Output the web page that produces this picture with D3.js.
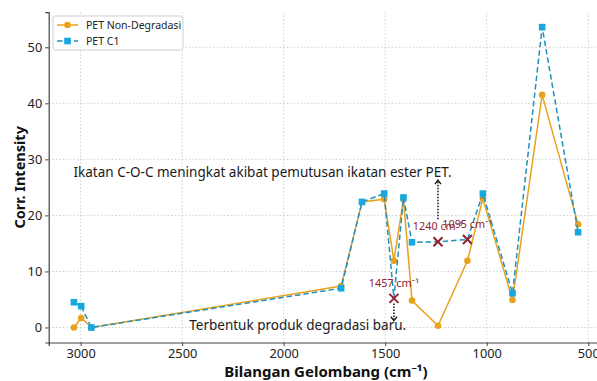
<!DOCTYPE html>
<html>
<head>
<meta charset="utf-8">
<script src="https://cdn.jsdelivr.net/npm/d3@7"></script>
<style>
  body { margin: 0; background: #fff; }
  svg { display: block; font-family: "Noto Sans", "Open Sans", sans-serif; }
</style>
</head>
<body>
<div id="chart"></div>
<script>
// wavenumbers (cm-1), shared by both series
const waves = [3033, 2997, 2947, 1717, 1614, 1505, 1457, 1410, 1368, 1240, 1095, 1019, 873, 727, 550];
const nonDegradasi = [0, 1.7, 0, 7.4, 22.4, 22.9, 11.9, 22.9, 4.8, 0.3, 11.9, 23.0, 4.9, 41.5, 18.4];
const petC1 = [4.5, 3.8, 0, 7.0, 22.4, 23.9, 5.2, 23.2, 15.2, 15.3, 15.7, 23.9, 6.1, 53.6, 17.0];
const seriesNames = ["PET Non-Degradasi", "PET C1"];

const xTicks = [3000, 2500, 2000, 1500, 1000, 500];
const yTicks = [0, 10, 20, 30, 40, 50];

// marked peaks on PET C1
const markWaves = [1457, 1240, 1095];
const markLabels = ["1457 cm\u207B\u00B9", "1240 cm\u207B\u00B9", "1095 cm\u207B\u00B9"];

const noteTop = "Ikatan C-O-C meningkat akibat pemutusan ikatan ester PET.";
const noteBottom = "Terbentuk produk degradasi baru.";

const W = 597, H = 381;
const plot = { left: 48.7, right: 603.3, top: 12.1, bottom: 342.5 };

const orange = "#E8A21E", blueLine = "#2090BC", blueMark = "#18A8E0", red = "#8E2431";

const svg = d3.select("#chart").append("svg").attr("width", W).attr("height", H);

// matplotlib-like 5% margins
const xExt = d3.extent(waves), yMax = d3.max(petC1.concat(nonDegradasi)), yMin = 0;
const xPad = (xExt[1] - xExt[0]) * 0.05, yPad = (yMax - yMin) * 0.05;
const x = d3.scaleLinear().domain([xExt[1] + xPad, xExt[0] - xPad]).range([plot.left, plot.right]);
const y = d3.scaleLinear().domain([yMin - yPad, yMax + yPad]).range([plot.bottom, plot.top]);

// grid
const grid = svg.append("g").attr("stroke", "#c4c4c4").attr("stroke-width", 0.8).attr("stroke-dasharray", "1.5,2");
grid.selectAll(".gx").data(xTicks).enter().append("line")
  .attr("x1", d => x(d)).attr("x2", d => x(d)).attr("y1", plot.top).attr("y2", plot.bottom);
grid.selectAll(".gy").data(yTicks).enter().append("line")
  .attr("x1", plot.left).attr("x2", plot.right).attr("y1", d => y(d)).attr("y2", d => y(d));

// axes
const xAxis = svg.append("g")
  .attr("transform", `translate(0,${plot.bottom})`)
  .call(d3.axisBottom(x).tickValues(xTicks).tickSize(3.5).tickPadding(3).tickFormat(d3.format("d")));
const yAxis = svg.append("g")
  .attr("transform", `translate(${plot.left},0)`)
  .call(d3.axisLeft(y).tickValues(yTicks).tickSize(3.5).tickPadding(3).tickFormat(d3.format("d")));
[xAxis, yAxis].forEach(a => {
  a.select(".domain").attr("stroke", "#444").attr("stroke-width", 1.2);
  a.selectAll(".tick line").attr("stroke", "#444");
  a.selectAll("text").attr("fill", "#222").style("font-size", "12.8px").style("font-family", "Noto Sans");
});

svg.append("text")
  .attr("x", (plot.left + plot.right) / 2).attr("y", 377)
  .attr("text-anchor", "middle").style("font-size", "15px").style("font-weight", "bold").attr("fill", "#111")
  .text("Bilangan Gelombang (cm\u207B\u00B9)");
svg.append("text")
  .attr("transform", `translate(25,${(plot.top + plot.bottom) / 2}) rotate(-90)`)
  .attr("text-anchor", "middle").style("font-size", "14.5px").style("font-weight", "bold").attr("fill", "#111")
  .text("Corr. Intensity");

// series
const line = vals => d3.line().x((d, i) => x(waves[i])).y(d => y(d))(vals);

svg.append("path").attr("d", line(nonDegradasi))
  .attr("fill", "none").attr("stroke", orange).attr("stroke-width", 1.5);
svg.selectAll(".dot").data(nonDegradasi).enter().append("circle")
  .attr("cx", (d, i) => x(waves[i])).attr("cy", d => y(d)).attr("r", 3.3).attr("fill", orange);

svg.append("path").attr("d", line(petC1))
  .attr("fill", "none").attr("stroke", blueLine).attr("stroke-width", 1.5).attr("stroke-dasharray", "5.5,3");
svg.selectAll(".sq").data(petC1.map((v, i) => ({ w: waves[i], v })).filter(d => markWaves.indexOf(d.w) < 0))
  .enter().append("rect")
  .attr("x", d => x(d.w) - 3.3).attr("y", d => y(d.v) - 3.3).attr("width", 6.6).attr("height", 6.6)
  .attr("fill", blueMark);

// marked peaks
const marks = markWaves.map((w, k) => ({ w, v: petC1[waves.indexOf(w)], label: markLabels[k] }));
const mg = svg.selectAll(".mark").data(marks).enter().append("g")
  .attr("transform", d => `translate(${x(d.w)},${y(d.v)})`);
mg.append("path").attr("d", "M-4.5,-4.5L4.5,4.5M-4.5,4.5L4.5,-4.5")
  .attr("stroke", red).attr("stroke-width", 2);
mg.append("text").attr("text-anchor", "middle").attr("y", -11.5)
  .style("font-size", "10.8px").attr("fill", red).text(d => d.label);

// dotted arrows
function arrow(xv, y0, y1) {
  const px = x(xv), a = y(y0), b = y(y1), dir = b < a ? 1 : -1;
  svg.append("line").attr("x1", px).attr("x2", px).attr("y1", a).attr("y2", b + dir * 1)
    .attr("stroke", "#111").attr("stroke-width", 1.5).attr("stroke-dasharray", "1.5,1.5");
  svg.append("path").attr("d", `M${px - 3},${b + dir * 4}L${px},${b}L${px + 3},${b + dir * 4}`)
    .attr("fill", "none").attr("stroke", "#111").attr("stroke-width", 1.3);
}
arrow(1240, 19.3, 26.3);
arrow(1457, 4.3, 1.2);

svg.append("text").attr("x", x(3035)).attr("y", y(26.8))
  .style("font-size", "13.5px").attr("fill", "#1a1a1a").text(noteTop);
svg.append("text").attr("x", x(2465)).attr("y", y(-0.4))
  .style("font-size", "13.5px").attr("fill", "#1a1a1a").text(noteBottom);

// legend
const lg = svg.append("g").attr("transform", "translate(53,16)");
lg.append("rect").attr("width", 130).attr("height", 34).attr("rx", 2.5)
  .attr("fill", "#fff").attr("fill-opacity", 0.85).attr("stroke", "#cfcfcf");
const rows = lg.selectAll(".row").data(seriesNames).enter().append("g")
  .attr("transform", (d, i) => `translate(0,${9 + i * 16})`);
rows.append("line").attr("x1", 4).attr("x2", 25)
  .attr("stroke", (d, i) => i ? blueLine : orange).attr("stroke-width", 1.5)
  .attr("stroke-dasharray", (d, i) => i ? "5.5,3" : null);
rows.filter((d, i) => i === 0).append("circle").attr("cx", 14.5).attr("r", 3.3).attr("fill", orange);
rows.filter((d, i) => i === 1).append("rect").attr("x", 11.2).attr("y", -3.3).attr("width", 6.6).attr("height", 6.6).attr("fill", blueMark);
rows.append("text").attr("x", 33).attr("dy", "0.35em").style("font-size", "10.5px").attr("fill", "#222").text(d => d);
</script>
</body>
</html>
